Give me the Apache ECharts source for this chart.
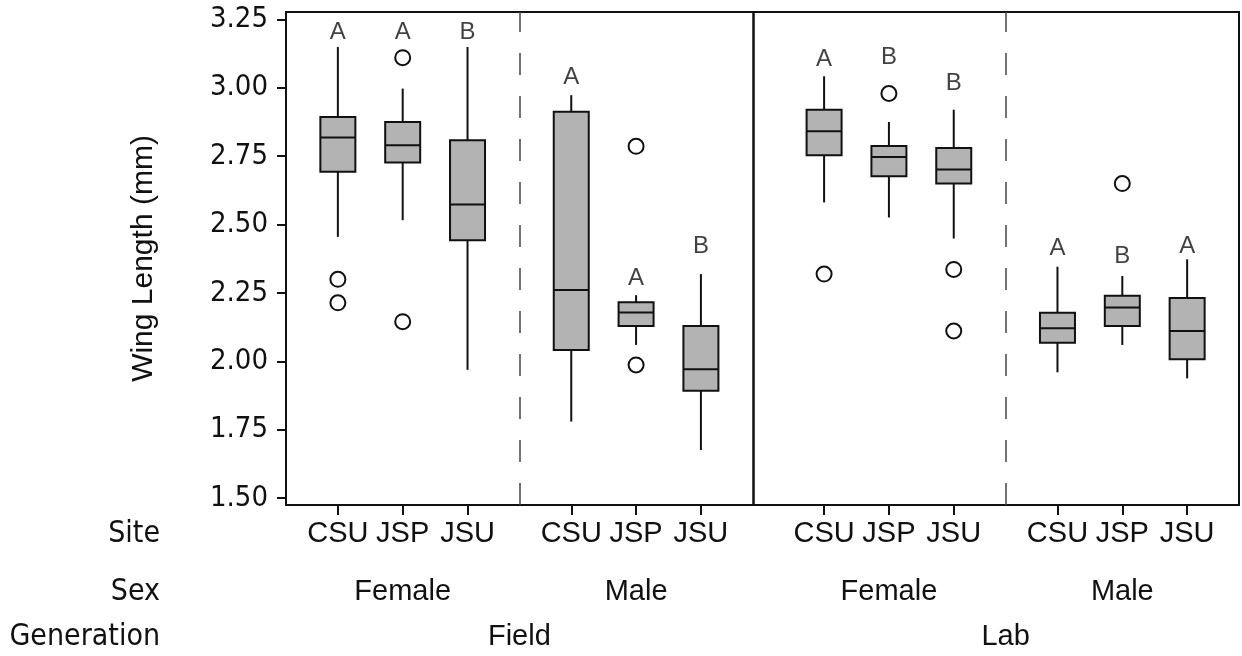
<!DOCTYPE html>
<html>
<head>
<meta charset="utf-8">
<script src="https://cdn.jsdelivr.net/npm/echarts@6/dist/echarts.min.js"></script>
<style>
  html, body { margin: 0; padding: 0; background: #fff; }
  #main { width: 1242px; height: 656px; }
</style>
</head>
<body>
<div id="main"></div>
<script>
const generations = ['Field', 'Lab'];
const sexes = ['Female', 'Male'];
const sites = ['CSU', 'JSP', 'JSU'];

// [min, Q1, median, Q3, max], order: Field/Female (CSU, JSP, JSU), Field/Male, Lab/Female, Lab/Male
const boxStats = [
  [2.455, 2.693, 2.818, 2.893, 3.149],
  [2.516, 2.727, 2.790, 2.875, 2.997],
  [1.969, 2.443, 2.573, 2.808, 3.149],
  [1.780, 2.042, 2.261, 2.912, 2.973],
  [2.060, 2.129, 2.179, 2.216, 2.242],
  [1.676, 1.893, 1.971, 2.129, 2.319],
  [2.581, 2.753, 2.841, 2.920, 3.042],
  [2.526, 2.677, 2.747, 2.787, 2.875],
  [2.449, 2.650, 2.701, 2.780, 2.920],
  [1.960, 2.068, 2.121, 2.178, 2.346],
  [2.060, 2.129, 2.197, 2.240, 2.312],
  [1.938, 2.008, 2.111, 2.232, 2.373]
];
const outliers = [
  [2.300, 2.214],
  [3.110, 2.145],
  [],
  [],
  [2.786, 1.987],
  [],
  [2.319],
  [2.979],
  [2.336, 2.111],
  [],
  [2.650],
  []
];
// significance letters and the height they sit at (mm)
const letters = ['A', 'A', 'B', 'A', 'A', 'B', 'A', 'B', 'B', 'A', 'B', 'A'];
const letterAt = [3.204, 3.204, 3.204, 3.039, 2.304, 2.421, 3.103, 3.110, 3.015, 2.413, 2.382, 2.421];
const yTicks = [1.50, 1.75, 2.00, 2.25, 2.50, 2.75, 3.00, 3.25];

// layout of the grouped x positions
const PAD = 8, STEP = 10, SEX_GAP = 16, GEN_GAP = 19;
const BOX_W = 35;
const INK = '#111';

const boxX = [], siteAt = {}, sexAt = {}, genAt = {}, dashedX = [], solidX = [];
let x = PAD;
generations.forEach((g, gi) => {
  if (gi > 0) { solidX.push(x - STEP + PAD); x += GEN_GAP - STEP; }
  const gStart = x;
  sexes.forEach((s, si) => {
    if (si > 0) { dashedX.push(x - STEP + SEX_GAP / 2); x += SEX_GAP - STEP; }
    sites.forEach((site, k) => {
      boxX.push(x);
      siteAt[x] = site;
      if (k === 1) sexAt[x] = s;
      x += STEP;
    });
  });
  genAt[(gStart + x - STEP) / 2] = g;
});
const X_MAX = x - STEP + PAD;

const sansFont = "'Liberation Sans', Arial, sans-serif";
const condFont = "'DejaVu Sans Condensed', 'DejaVu Sans', sans-serif";

function rowAxis(name, lookup, offset) {
  const vals = Object.keys(lookup).map(Number);
  return {
    type: 'value', gridIndex: 0, position: 'bottom', offset: offset,
    min: 0, max: X_MAX,
    axisLine: { show: false }, axisTick: { show: false }, splitLine: { show: false },
    axisLabel: {
      customValues: vals, margin: 0, verticalAlign: 'middle',
      formatter: v => lookup[v] || '',
      fontFamily: sansFont, fontSize: 29, color: INK
    },
    name: name, nameLocation: 'start', nameGap: 126,
    nameTextStyle: { fontFamily: condFont, fontSize: 30, color: INK, align: 'right', verticalAlign: 'middle' }
  };
}

const chart = echarts.init(document.getElementById('main'));
chart.setOption({
  animation: false,
  grid: { left: 286, right: 3, top: 12, bottom: 151, show: true, borderColor: INK, borderWidth: 2 },
  xAxis: [
    {
      type: 'value', gridIndex: 0, position: 'bottom', min: 0, max: X_MAX,
      axisLine: { show: true, lineStyle: { color: INK, width: 2 } },
      axisTick: { show: true, customValues: boxX, length: 10, lineStyle: { color: INK, width: 2 } },
      axisLabel: { show: false },
      splitLine: { show: false }
    },
    rowAxis('Site', siteAt, 29),
    rowAxis('Sex', sexAt, 87),
    rowAxis('Generation', genAt, 132)
  ],
  yAxis: {
    type: 'value', min: 1.475, max: 3.277,
    axisLine: { show: false },
    axisTick: { show: true, customValues: yTicks, length: 9, lineStyle: { color: INK, width: 2 } },
    axisLabel: {
      customValues: yTicks, margin: 18, formatter: v => v.toFixed(2),
      fontFamily: condFont, fontSize: 29, color: INK
    },
    splitLine: { show: false },
    name: 'Wing Length (mm)', nameLocation: 'middle', nameRotate: 90, nameGap: 127,
    nameTextStyle: { fontFamily: sansFont, fontSize: 30, color: INK }
  },
  series: [
    {
      type: 'custom',
      data: boxX.map((bx, i) => [bx].concat(boxStats[i])),
      encode: { x: 0, y: [1, 2, 3, 4, 5] },
      renderItem: (params, api) => {
        const bx = api.value(0);
        const pMin = api.coord([bx, api.value(1)]);
        const pQ1 = api.coord([bx, api.value(2)]);
        const pMed = api.coord([bx, api.value(3)]);
        const pQ3 = api.coord([bx, api.value(4)]);
        const pMax = api.coord([bx, api.value(5)]);
        const h = BOX_W / 2;
        const line = { stroke: INK, lineWidth: 2 };
        return {
          type: 'group',
          children: [
            { type: 'line', shape: { x1: pMax[0], y1: pMax[1], x2: pQ3[0], y2: pQ3[1] }, style: line },
            { type: 'line', shape: { x1: pQ1[0], y1: pQ1[1], x2: pMin[0], y2: pMin[1] }, style: line },
            { type: 'rect', shape: { x: pQ3[0] - h, y: pQ3[1], width: BOX_W, height: pQ1[1] - pQ3[1] },
              style: { fill: '#b3b3b3', stroke: INK, lineWidth: 2 } },
            { type: 'line', shape: { x1: pMed[0] - h, y1: pMed[1], x2: pMed[0] + h, y2: pMed[1] }, style: line }
          ]
        };
      }
    },
    {
      type: 'scatter',
      symbol: 'circle', symbolSize: 15,
      itemStyle: { color: '#fff', borderColor: INK, borderWidth: 2, opacity: 1 },
      data: outliers.flatMap((vals, i) => vals.map(v => [boxX[i], v])),
      markLine: {
        silent: true, symbol: ['none', 'none'], label: { show: false },
        data: dashedX.map(v => ({ xAxis: v, lineStyle: { type: [22, 21], color: '#444', width: 1.5 } }))
          .concat(solidX.map(v => ({ xAxis: v, lineStyle: { type: 'solid', color: INK, width: 2.5 } })))
      }
    },
    {
      type: 'scatter',
      symbolSize: 1,
      itemStyle: { color: 'rgba(0,0,0,0)' },
      label: { show: true, position: 'inside', formatter: '{b}', fontFamily: sansFont, fontSize: 24, color: INK },
      data: letters.map((l, i) => ({ name: l, value: [boxX[i], letterAt[i]] }))
    }
  ]
});
</script>
</body>
</html>
